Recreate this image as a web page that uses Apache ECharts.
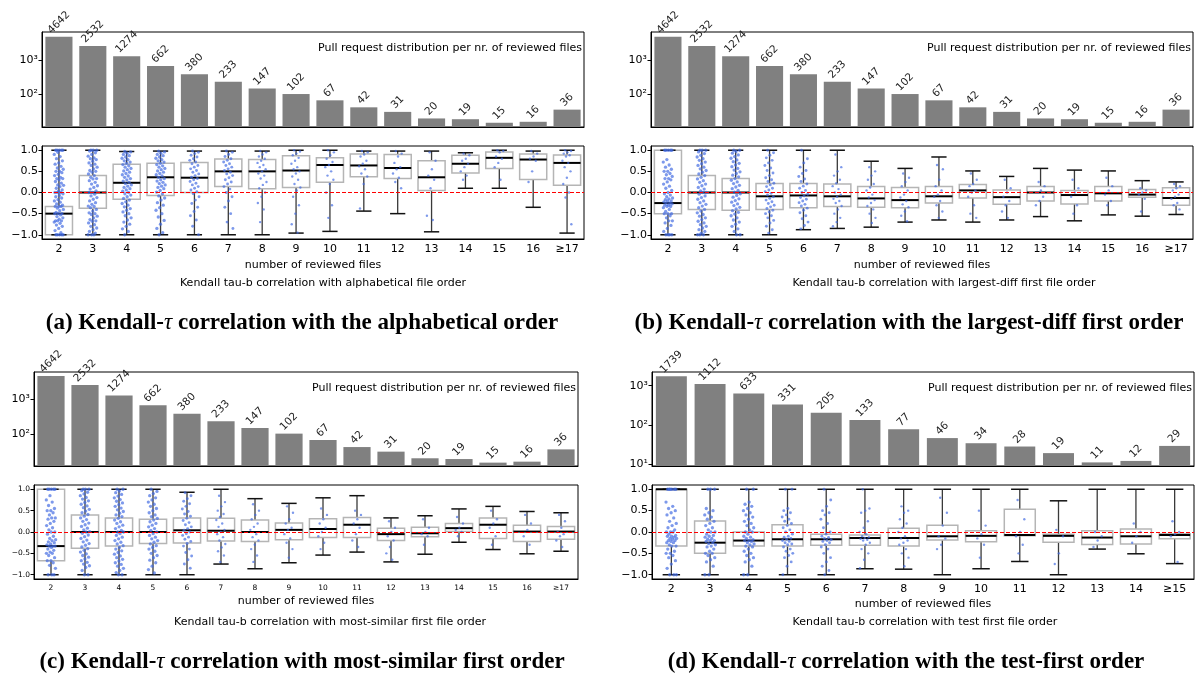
<!DOCTYPE html>
<html><head><meta charset="utf-8">
<script src="https://cdn.jsdelivr.net/npm/echarts@6/dist/echarts.min.js"></script>
<style>html,body{margin:0;padding:0;background:#fff}#c{width:1198px;height:677px}</style>
</head><body><div id="c"></div>
<script>
// ---------------- data ----------------
const cats17 = ['2','3','4','5','6','7','8','9','10','11','12','13','14','15','16','≥17'];
const cats15 = ['2','3','4','5','6','7','8','9','10','11','12','13','14','≥15'];
const countsABC = [4642,2532,1274,662,380,233,147,102,67,42,31,20,19,15,16,36];
const countsD = [1739,1112,633,331,205,133,77,46,34,28,19,11,12,29];
const corrTicks = [-1,-0.5,0,0.5,1];

// box stats: [whisker low, Q1, median, Q3, whisker high]
const boxA = [[-1,-1,-0.5,-0.33,1],[-1,-0.37,0,0.4,1],[-1,-0.16,0.23,0.67,0.97],[-1,-0.07,0.36,0.69,0.98],[-1,0,0.35,0.71,0.98],[-1,0.14,0.5,0.79,0.98],[-1,0.09,0.5,0.78,0.98],[-0.96,0.12,0.52,0.87,1],[-0.92,0.24,0.65,0.82,1],[-0.44,0.37,0.64,0.91,0.98],[-0.5,0.33,0.58,0.9,0.98],[-0.93,0.05,0.36,0.75,0.98],[0.1,0.46,0.68,0.88,0.94],[0.1,0.57,0.82,0.96,1],[-0.35,0.31,0.78,0.91,0.98],[-0.96,0.17,0.7,0.89,1]];
const boxB = [[-1,-0.5,-0.25,1,1],[-1,-0.4,0,0.4,1],[-1,-0.42,0,0.33,1],[-1,-0.4,-0.09,0.21,1],[-0.88,-0.36,-0.07,0.21,1],[-0.85,-0.33,-0.09,0.2,1],[-0.82,-0.35,-0.14,0.14,0.74],[-0.7,-0.36,-0.18,0.12,0.57],[-0.65,-0.25,-0.09,0.14,0.84],[-0.7,-0.13,0.05,0.19,0.51],[-0.65,-0.28,-0.11,0.06,0.38],[-0.57,-0.2,0,0.14,0.57],[-0.67,-0.27,-0.06,0.05,0.53],[-0.53,-0.2,-0.02,0.14,0.51],[-0.56,-0.11,-0.05,0.07,0.28],[-0.52,-0.3,-0.13,0.11,0.25]];
const boxC = [[-1,-0.67,-0.33,1,1],[-1,-0.38,0,0.4,1],[-1,-0.33,0,0.33,1],[-1,-0.27,0,0.3,1],[-1,-0.26,0.04,0.33,0.93],[-0.75,-0.21,0.03,0.32,1],[-0.86,-0.22,0,0.28,0.78],[-0.72,-0.18,0.05,0.21,0.67],[-0.54,-0.13,0.07,0.31,0.8],[-0.47,-0.13,0.17,0.34,0.85],[-0.7,-0.2,-0.05,0.09,0.33],[-0.52,-0.11,-0.03,0.11,0.38],[-0.24,0.01,0.09,0.2,0.54],[-0.41,-0.15,0.17,0.33,0.6],[-0.51,-0.22,0.01,0.16,0.48],[-0.45,-0.17,0.01,0.13,0.45]];
const boxD = [[-1,-0.33,1,1,1],[-1,-0.5,-0.25,0.26,1],[-1,-0.33,-0.2,0,1],[-1,-0.33,-0.17,0.17,1],[-1,-0.31,-0.17,-0.05,1],[-0.86,-0.31,-0.14,-0.07,1],[-0.87,-0.33,-0.14,0.09,1],[-1,-0.19,-0.1,0.16,1],[-0.86,-0.23,-0.09,0.03,1],[-0.69,-0.09,-0.07,0.53,1],[-1,-0.24,-0.09,-0.05,0.73],[-0.4,-0.29,-0.13,0.03,1],[-0.51,-0.28,-0.1,0.07,1],[-0.74,-0.16,-0.07,-0.04,1]];

const ptsA = [
[1,1,1,1,1,0.95,0.9,0.85,0.8,0.75,0.7,0.67,0.62,0.58,0.55,0.5,0.5,0.47,0.43,0.4,0.36,0.33,0.33,0.3,0.26,0.22,0.18,0.17,0.14,0.1,0.06,0.03,0,0,0,-0.03,-0.07,-0.1,-0.13,-0.17,-0.2,-0.23,-0.27,-0.3,-0.33,-0.33,-0.33,-0.37,-0.4,-0.43,-0.47,-0.5,-0.5,-0.5,-0.53,-0.57,-0.6,-0.63,-0.67,-0.67,-0.67,-0.7,-0.73,-0.77,-0.8,-0.85,-0.9,-0.95,-1,-1,-1,-1,-1],
[1,1,1,0.98,0.94,0.9,0.86,0.82,0.8,0.78,0.74,0.7,0.67,0.64,0.6,0.56,0.52,0.5,0.48,0.44,0.4,0.36,0.33,0.32,0.28,0.24,0.2,0.16,0.12,0.08,0.04,0,0,-0.04,-0.08,-0.12,-0.16,-0.2,-0.24,-0.28,-0.32,-0.33,-0.36,-0.4,-0.44,-0.48,-0.5,-0.52,-0.56,-0.6,-0.64,-0.67,-0.68,-0.72,-0.76,-0.8,-0.84,-0.88,-0.92,-0.96,-1,-1,-1],
[0.97,0.96,0.93,0.9,0.87,0.84,0.81,0.78,0.75,0.72,0.69,0.66,0.63,0.6,0.57,0.54,0.51,0.48,0.45,0.42,0.39,0.36,0.33,0.3,0.27,0.24,0.21,0.18,0.15,0.12,0.09,0.06,0.03,0,-0.03,-0.06,-0.1,-0.14,-0.18,-0.22,-0.26,-0.3,-0.34,-0.38,-0.42,-0.46,-0.5,-0.55,-0.6,-0.65,-0.7,-0.75,-0.8,-0.86,-0.92,-1],
[0.98,0.96,0.93,0.9,0.87,0.84,0.81,0.78,0.75,0.72,0.69,0.66,0.63,0.6,0.57,0.54,0.51,0.48,0.45,0.42,0.39,0.36,0.33,0.3,0.27,0.24,0.21,0.18,0.15,0.12,0.09,0.05,0.01,-0.03,-0.08,-0.13,-0.18,-0.24,-0.3,-0.36,-0.42,-0.5,-0.58,-0.66,-0.75,-0.85,-0.95,-1],
[0.98,0.95,0.92,0.88,0.84,0.8,0.76,0.72,0.68,0.64,0.6,0.56,0.52,0.48,0.44,0.4,0.36,0.33,0.3,0.26,0.22,0.18,0.14,0.1,0.06,0.02,-0.03,-0.1,-0.18,-0.26,-0.35,-0.45,-0.55,-0.65,-0.8,-1],
[0.98,0.95,0.9,0.85,0.8,0.76,0.72,0.68,0.64,0.6,0.56,0.52,0.48,0.44,0.4,0.35,0.3,0.25,0.2,0.14,0.08,0,-0.1,-0.2,-0.35,-0.5,-0.7,-0.85],
[0.98,0.95,0.9,0.85,0.8,0.75,0.7,0.65,0.6,0.55,0.5,0.45,0.4,0.33,0.25,0.18,0.1,0,-0.1,-0.25,-0.4,-0.7],
[1,0.97,0.92,0.88,0.82,0.75,0.68,0.6,0.55,0.5,0.45,0.38,0.3,0.2,0.12,0.05,-0.1,-0.3,-0.5,-0.75,-0.95],
[1,0.95,0.88,0.8,0.72,0.65,0.6,0.5,0.4,0.3,0.2,0,-0.3,-0.6],
[0.98,0.95,0.9,0.85,0.75,0.68,0.62,0.55,0.45,0.38,0.2,-0.38],
[0.98,0.92,0.85,0.7,0.6,0.55,0.45,0.35,0.25,0.1],
[0.95,0.75,0.55,0.4,0.3,0.1,-0.55,-0.65],
[0.92,0.88,0.8,0.75,0.68,0.6,0.5,0.4,0.3],
[1,0.98,0.95,0.85,0.8,0.7,0.6,0.3],
[0.98,0.92,0.85,0.8,0.75,0.5,0.25],
[1,0.98,0.95,0.92,0.88,0.85,0.75,0.7,0.6,0.5,0.35,0.2,0,-0.12,-0.75]];
const ptsB = [
[1,1,1,1,1,0.78,0.72,0.65,0.6,0.55,0.5,0.5,0.45,0.42,0.38,0.33,0.33,0.3,0.25,0.2,0.15,0.1,0.05,0,-0.03,-0.06,-0.1,-0.13,-0.15,-0.17,-0.2,-0.2,-0.22,-0.25,-0.25,-0.27,-0.3,-0.3,-0.33,-0.33,-0.36,-0.4,-0.45,-0.5,-0.5,-0.5,-0.55,-0.6,-0.67,-0.67,-0.72,-0.78,-0.85,-0.92,-1,-1,-1,-1],
[1,1,1,0.96,0.92,0.88,0.84,0.8,0.76,0.72,0.68,0.64,0.6,0.56,0.52,0.48,0.44,0.4,0.36,0.32,0.28,0.24,0.2,0.16,0.12,0.08,0.04,0,0,-0.04,-0.08,-0.12,-0.16,-0.2,-0.24,-0.28,-0.32,-0.36,-0.4,-0.44,-0.48,-0.52,-0.56,-0.6,-0.64,-0.68,-0.72,-0.76,-0.8,-0.84,-0.88,-0.92,-0.96,-1,-1,-1],
[1,1,0.97,0.93,0.89,0.85,0.81,0.77,0.73,0.69,0.65,0.61,0.57,0.53,0.49,0.45,0.41,0.37,0.33,0.29,0.25,0.21,0.17,0.13,0.09,0.05,0.01,-0.03,-0.07,-0.11,-0.15,-0.19,-0.23,-0.27,-0.31,-0.35,-0.39,-0.43,-0.47,-0.51,-0.55,-0.6,-0.65,-0.7,-0.75,-0.8,-0.86,-0.92,-1,-1],
[1,0.94,0.88,0.82,0.76,0.7,0.64,0.58,0.52,0.46,0.4,0.35,0.3,0.26,0.22,0.18,0.14,0.1,0.06,0.02,-0.02,-0.06,-0.1,-0.14,-0.18,-0.22,-0.26,-0.3,-0.34,-0.38,-0.42,-0.46,-0.5,-0.55,-0.6,-0.66,-0.72,-0.8,-0.88,-0.96],
[1,0.8,0.7,0.6,0.52,0.45,0.38,0.32,0.26,0.2,0.15,0.1,0.05,0,-0.04,-0.08,-0.12,-0.16,-0.2,-0.24,-0.28,-0.32,-0.37,-0.42,-0.48,-0.55,-0.62,-0.7,-0.78,-0.86],
[0.9,0.6,0.5,0.4,0.3,0.22,0.15,0.08,0,-0.05,-0.1,-0.15,-0.2,-0.25,-0.32,-0.4,-0.5,-0.6,-0.7,-0.8],
[0.6,0.5,0.4,0.3,0.2,0.12,0.05,-0.05,-0.12,-0.18,-0.25,-0.32,-0.4,-0.5,-0.6,-0.72],
[0.45,0.35,0.25,0.15,0.05,-0.05,-0.12,-0.2,-0.28,-0.35,-0.45,-0.55,-0.68],
[0.65,0.55,0.3,0.15,0.05,-0.05,-0.1,-0.2,-0.3,-0.45,-0.6],
[0.45,0.3,0.2,0.15,0.05,0,-0.1,-0.3,-0.5,-0.6],
[0.3,0.1,0,-0.1,-0.2,-0.3,-0.45,-0.6],
[0.25,0.15,0.05,0,-0.1,-0.2,-0.3],
[0.3,0.1,0,-0.1,-0.3,-0.5],
[0.35,0.15,0.05,-0.05,-0.2,-0.3],
[0.1,0.05,0,-0.05,-0.15,-0.45],
[0.2,0.15,0.1,0.05,-0.05,-0.1,-0.15,-0.25,-0.3,-0.4]];
const ptsC = [
[1,1,1,1,1,0.85,0.75,0.7,0.62,0.55,0.5,0.5,0.45,0.4,0.33,0.33,0.3,0.25,0.2,0.15,0.1,0.05,0,0,-0.05,-0.1,-0.15,-0.18,-0.2,-0.23,-0.25,-0.28,-0.3,-0.33,-0.33,-0.33,-0.36,-0.4,-0.43,-0.47,-0.5,-0.5,-0.55,-0.6,-0.67,-0.67,-0.72,-0.78,-0.85,-1,-1,-1],
[1,1,1,0.97,0.93,0.89,0.85,0.81,0.77,0.73,0.69,0.65,0.61,0.57,0.53,0.49,0.45,0.41,0.37,0.33,0.29,0.25,0.21,0.17,0.13,0.09,0.05,0.01,0,-0.03,-0.07,-0.11,-0.15,-0.19,-0.23,-0.27,-0.31,-0.35,-0.39,-0.43,-0.47,-0.51,-0.55,-0.59,-0.63,-0.67,-0.71,-0.75,-0.79,-0.83,-0.9,-1,-1],
[1,1,0.96,0.92,0.88,0.84,0.8,0.76,0.72,0.68,0.64,0.6,0.56,0.52,0.48,0.44,0.4,0.36,0.32,0.28,0.24,0.2,0.16,0.12,0.08,0.04,0,0,-0.04,-0.08,-0.12,-0.16,-0.2,-0.24,-0.28,-0.32,-0.36,-0.4,-0.44,-0.48,-0.52,-0.56,-0.6,-0.64,-0.68,-0.72,-0.76,-0.8,-0.85,-0.9,-0.95,-1,-1],
[1,0.95,0.9,0.85,0.8,0.75,0.7,0.65,0.6,0.55,0.5,0.45,0.4,0.36,0.32,0.28,0.24,0.2,0.16,0.12,0.08,0.04,0,-0.04,-0.08,-0.12,-0.16,-0.2,-0.24,-0.28,-0.32,-0.36,-0.4,-0.45,-0.5,-0.55,-0.6,-0.66,-0.72,-0.8,-0.88,-0.96],
[0.92,0.85,0.78,0.72,0.66,0.6,0.54,0.48,0.42,0.37,0.32,0.27,0.22,0.17,0.12,0.08,0.04,0,-0.04,-0.08,-0.12,-0.17,-0.22,-0.27,-0.33,-0.4,-0.48,-0.56,-0.65,-0.75,-0.85],
[0.85,0.7,0.6,0.5,0.42,0.35,0.28,0.2,0.12,0.05,0,-0.05,-0.12,-0.2,-0.28,-0.36,-0.45,-0.55,-0.7],
[0.65,0.5,0.4,0.3,0.2,0.12,0.05,-0.05,-0.12,-0.2,-0.3,-0.4,-0.55,-0.7],
[0.6,0.45,0.3,0.2,0.1,0.05,-0.05,-0.15,-0.25,-0.4,-0.6],
[0.55,0.4,0.3,0.2,0.1,0,-0.1,-0.25,-0.4],
[0.5,0.4,0.3,0.2,0.1,-0.05,-0.2,-0.35],
[0.25,0.1,0,-0.1,-0.2,-0.35,-0.5,-0.65],
[0.3,0.1,0,-0.05,-0.1,-0.3],
[0.35,0.2,0.1,0.05,0,-0.1],
[0.5,0.3,0.2,0.1,-0.1,-0.3],
[0.4,0.2,0.05,-0.1,-0.3],
[0.4,0.25,0.1,0,-0.05,-0.1,-0.2,-0.35]];
const ptsD = [
[1,1,1,1,1,1,0.7,0.6,0.55,0.5,0.45,0.4,0.33,0.25,0.2,0.15,0.1,0.05,0,0,0,-0.05,-0.08,-0.1,-0.1,-0.12,-0.15,-0.15,-0.17,-0.2,-0.2,-0.22,-0.25,-0.25,-0.3,-0.33,-0.33,-0.4,-0.45,-0.5,-0.5,-0.55,-0.6,-0.67,-0.75,-0.85,-1,-1,-1],
[1,1,1,0.55,0.5,0.45,0.4,0.35,0.3,0.25,0.2,0.15,0.1,0.05,0,0,-0.05,-0.08,-0.1,-0.12,-0.15,-0.17,-0.2,-0.2,-0.22,-0.25,-0.27,-0.3,-0.33,-0.35,-0.4,-0.45,-0.5,-0.5,-0.55,-0.6,-0.65,-0.7,-0.8,-1,-1],
[1,1,0.7,0.65,0.6,0.55,0.5,0.45,0.4,0.35,0.3,0.25,0.2,0.15,0.1,0.05,0,0,-0.05,-0.1,-0.12,-0.15,-0.18,-0.2,-0.2,-0.22,-0.25,-0.28,-0.3,-0.33,-0.35,-0.4,-0.45,-0.5,-0.55,-0.6,-0.65,-0.7,-0.8,-1,-1],
[1,1,0.55,0.5,0.45,0.4,0.35,0.3,0.25,0.2,0.15,0.1,0.05,0,-0.05,-0.1,-0.12,-0.15,-0.17,-0.2,-0.22,-0.25,-0.28,-0.3,-0.35,-0.4,-0.45,-0.5,-0.55,-0.6,-0.7,-0.8,-1],
[1,0.75,0.6,0.5,0.45,0.4,0.3,0.2,0.1,0,-0.05,-0.1,-0.13,-0.15,-0.18,-0.2,-0.22,-0.25,-0.3,-0.35,-0.4,-0.5,-0.6,-0.7,-0.8,-0.9,-1],
[1,0.55,0.5,0.45,0.25,0.1,0,-0.05,-0.1,-0.12,-0.14,-0.16,-0.18,-0.2,-0.25,-0.3,-0.4,-0.5,-0.65,-0.85],
[0.6,0.5,0.45,0.3,0.2,0.1,0,-0.1,-0.15,-0.2,-0.25,-0.3,-0.4,-0.5,-0.6,-0.8],
[0.8,0.45,0.15,-0.1,-0.15,-0.3,-0.4],
[0.5,0.15,-0.05,-0.15,-0.3,-0.6],
[0.75,0.3,0,-0.1,-0.3,-0.5],
[0.05,-0.1,-0.5,-0.75],
[0,-0.1,-0.2,-0.35],
[0.2,0,-0.1,-0.25],
[0.25,0,-0.05,-0.1,-0.7]];

const subTitles = ['Kendall tau-b correlation with alphabetical file order','Kendall tau-b correlation with largest-diff first file order','Kendall tau-b correlation with most-similar first file order','Kendall tau-b correlation with test first file order'];
const captionLetters = ['(a)','(b)','(c)','(d)'];
const captionTails = [' correlation with the alphabetical order',' correlation with the largest-diff first order',' correlation with most-similar first order',' correlation with the test-first order'];
const barTitle = 'Pull request distribution per nr. of reviewed files';
const xName = 'number of reviewed files';

// ---------------- layout ----------------
const FONT = 'DejaVu Sans';
const panels = [
  {cats:cats17, counts:countsABC, box:boxA, pts:ptsA, ymin:11.3, ymax:6400,
   bar:{l:42,t:32,w:542,h:95}, bx:{l:42,t:146,w:542,h:93}, small:false, gap:21, stx:323, sty:283, cx:302, cy:323},
  {cats:cats17, counts:countsABC, box:boxB, pts:ptsB, ymin:11.3, ymax:6400,
   bar:{l:651,t:32,w:542,h:95}, bx:{l:651,t:146,w:542,h:93}, small:false, gap:21, stx:944, sty:283, cx:909, cy:323},
  {cats:cats17, counts:countsABC, box:boxC, pts:ptsC, ymin:12, ymax:6000,
   bar:{l:34,t:372,w:544,h:94}, bx:{l:34,t:485,w:544,h:94}, small:true, gap:17, stx:330, sty:622, cx:302, cy:662},
  {cats:cats15, counts:countsD, box:boxD, pts:ptsD, ymin:8.9, ymax:2244,
   bar:{l:652,t:372,w:542,h:94}, bx:{l:652,t:485,w:542,h:94}, small:false, gap:20, stx:925, sty:622, cx:906, cy:662}
];

const SUP = {'1':'¹','2':'²','3':'³','4':'⁴'};
function logLabel(v){
  const lg = Math.log10(v), r = Math.round(lg);
  return Math.abs(lg - r) < 1e-6 && r >= 1 ? '10' + SUP[String(r)] : '';
}
function corrLabel(v){
  return (v < 0 ? '\u2212' : '') + Math.abs(v).toFixed(1);
}
function jit(j){ return (((j * 0.6180339887 + 0.3) % 1) - 0.5) * 0.28; }

const grid = [], xAxis = [], yAxis = [], series = [], graphic = [];
panels.forEach((p, k) => {
  const n = p.cats.length;
  const gBar = grid.length;
  grid.push({left:p.bar.l, top:p.bar.t, width:p.bar.w, height:p.bar.h, show:true, borderColor:'#000', borderWidth:1, containLabel:false});
  const gBox = grid.length;
  grid.push({left:p.bx.l, top:p.bx.t, width:p.bx.w, height:p.bx.h, show:true, borderColor:'#000', borderWidth:1, containLabel:false});

  const xiBar = xAxis.length;
  xAxis.push({type:'category', gridIndex:gBar, data:p.cats,
    axisLine:{onZero:false, lineStyle:{color:'#000', width:1}}, axisTick:{alignWithLabel:true, length:3.5, lineStyle:{color:'#000'}},
    axisLabel:{show:false}, splitLine:{show:false}});
  const fsTick = p.small ? 7.5 : 11;
  xAxis.push({type:'category', gridIndex:gBox, data:p.cats,
    axisLine:{onZero:false, lineStyle:{color:'#000', width:1}}, axisTick:{alignWithLabel:true, length:3.5, lineStyle:{color:'#000'}},
    axisLabel:{fontFamily:FONT, fontSize:fsTick, color:'#000', margin:5, interval:0},
    name:xName, nameLocation:'middle', nameGap:p.gap,
    nameTextStyle:{fontFamily:FONT, fontSize:11, color:'#000'}, splitLine:{show:false}});
  const xiVal = xAxis.length;
  xAxis.push({type:'value', gridIndex:gBox, min:-0.5, max:n-0.5, show:false, splitLine:{show:false}});

  const yiBar = yAxis.length;
  yAxis.push({type:'log', logBase:10, gridIndex:gBar, min:p.ymin, max:p.ymax,
    axisLine:{show:true, onZero:false, lineStyle:{color:'#000', width:1}}, axisTick:{show:true, length:3.5, lineStyle:{color:'#000'}},
    axisLabel:{fontFamily:FONT, fontSize:11, color:'#000', margin:4, formatter:logLabel, showMinLabel:false, showMaxLabel:false},
    splitLine:{show:false}});
  const yiBox = yAxis.length;
  yAxis.push({type:'value', gridIndex:gBox, min:-1.1, max:1.1,
    axisLine:{show:true, onZero:false, lineStyle:{color:'#000', width:1}},
    axisTick:{show:true, length:3.5, lineStyle:{color:'#000'}, customValues:corrTicks},
    axisLabel:{fontFamily:FONT, fontSize:fsTick, color:'#000', margin:4, formatter:corrLabel, customValues:corrTicks},
    splitLine:{show:false}});

  // bars
  const fsBar = 10.5;
  series.push({type:'bar', xAxisIndex:xiBar, yAxisIndex:yiBar, barWidth:'80%', itemStyle:{color:'#808080'},
    data:p.counts.map(v => {
      const w = String(v).length * 0.636 * fsBar, h = 0.75 * fsBar;
      return {value:v, label:{distance: 2 + (w + h) * 0.3536}};
    }),
    label:{show:true, position:'top', rotate:45, align:'center', verticalAlign:'middle',
      fontFamily:FONT, fontSize:fsBar, color:'#222'}, silent:true});

  // boxes
  series.push({type:'custom', xAxisIndex:xiVal, yAxisIndex:yiBox, silent:true, z:2,
    data:p.box.map((b, i) => [i].concat(b)),
    renderItem:function(params, api){
      const i = api.value(0);
      const lo = api.coord([i, api.value(1)]), q1 = api.coord([i, api.value(2)]), md = api.coord([i, api.value(3)]),
            q3 = api.coord([i, api.value(4)]), hi = api.coord([i, api.value(5)]);
      const half = api.size([0.8, 0])[0] / 2, cap = api.size([0.45, 0])[0] / 2;
      const cx = lo[0];
      return {type:'group', children:[
        {type:'line', shape:{x1:cx, y1:q3[1], x2:cx, y2:hi[1]}, style:{stroke:'#3a3a3a', lineWidth:1.3}},
        {type:'line', shape:{x1:cx, y1:q1[1], x2:cx, y2:lo[1]}, style:{stroke:'#3a3a3a', lineWidth:1.3}},
        {type:'rect', shape:{x:cx-half, y:q3[1], width:2*half, height:q1[1]-q3[1]}, style:{fill:'none', stroke:'#b5b5b5', lineWidth:1.5}},
        {type:'line', shape:{x1:cx-cap, y1:hi[1], x2:cx+cap, y2:hi[1]}, style:{stroke:'#111', lineWidth:1.5}},
        {type:'line', shape:{x1:cx-cap, y1:lo[1], x2:cx+cap, y2:lo[1]}, style:{stroke:'#111', lineWidth:1.5}},
        {type:'line', shape:{x1:cx-half, y1:md[1], x2:cx+half, y2:md[1]}, style:{stroke:'#000', lineWidth:2}}
      ]};
    }});

  // strip points (bigger dots where the column is densely populated)
  const pdata = [];
  p.pts.forEach((arr, i) => arr.forEach((v, j) => pdata.push({value:[i + jit(j), v], symbolSize: arr.length > 40 ? 3.3 : (arr.length > 25 ? 2.9 : 2.4)})));
  series.push({type:'scatter', xAxisIndex:xiVal, yAxisIndex:yiBox, silent:true, z:3,
    itemStyle:{color:'rgba(65,105,225,0.85)'}, data:pdata,
    markLine:{silent:true, symbol:'none', label:{show:false}, z:4,
      lineStyle:{color:'#ff0000', type:[4,2], width:1.2}, data:[{yAxis:0}]}});

  // texts
  graphic.push({type:'text', x:p.bar.l + p.bar.w - 2, y:p.bar.t + 16,
    style:{text:barTitle, align:'right', verticalAlign:'middle', fontFamily:FONT, fontSize:11, fill:'#000'}});
  graphic.push({type:'text', x:p.stx, y:p.sty,
    style:{text:subTitles[k], align:'center', verticalAlign:'middle', fontFamily:FONT, fontSize:11, fill:'#000'}});
  graphic.push({type:'text', x:p.cx, y:p.cy,
    style:{text:'{b|' + captionLetters[k] + ' Kendall-}{i|τ}{b|' + captionTails[k] + '}', align:'center', verticalAlign:'middle',
      rich:{b:{fontFamily:'Liberation Serif', fontWeight:'bold', fontSize:23, fill:'#000'},
            i:{fontFamily:'Liberation Serif', fontStyle:'italic', fontSize:23, fill:'#000'}}}});
});

const chart = echarts.init(document.getElementById('c'), null, {renderer:'canvas'});
chart.setOption({animation:false, backgroundColor:'#fff', grid, xAxis, yAxis, series, graphic});
</script></body></html>
